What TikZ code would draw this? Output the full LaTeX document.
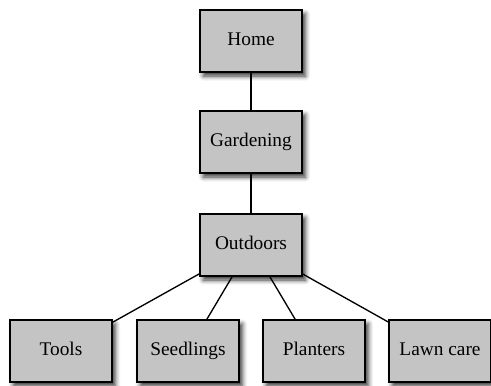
\documentclass[tikz,border=0pt]{standalone}
\usepackage{fontspec}
\setmainfont{Liberation Serif}
\usetikzlibrary{shadows.blur}

\begin{document}
\begin{tikzpicture}[x=0.75pt,y=-0.75pt,
    page/.style={draw=black,line width=1pt,fill={rgb,255:red,196;green,196;blue,196},
      minimum width=76.5pt,minimum height=46.5pt,inner sep=0pt,text height=0.7em,text depth=0.05em,
      font=\fontsize{14.5}{16}\selectfont,
      blur shadow={shadow xshift=2.5pt,shadow yshift=-3pt,shadow blur radius=3.5pt,shadow opacity=80}},
    link/.style={draw=black,line width=1pt}]
    \useasboundingbox (0,0) rectangle (491,385);
    \node[page] (home)      at (251, 41) {Home};
    \node[page] (gardening) at (251,142) {Gardening};
    \node[page] (outdoors)  at (251,245) {Outdoors};
    \node[page] (tools)     at ( 61,351) {Tools};
    \node[page] (seedlings) at (188,351) {Seedlings};
    \node[page] (planters)  at (314,351) {Planters};
    \node[page] (lawncare)  at (440,351) {Lawn care};
    \draw[link] (home) -- (gardening);
    \draw[link] (gardening) -- (outdoors);
    \draw[link] (outdoors) -- (tools);
    \draw[link] (outdoors) -- (seedlings);
    \draw[link] (outdoors) -- (planters);
    \draw[link] (outdoors) -- (lawncare);
  \end{tikzpicture}
\end{document}
